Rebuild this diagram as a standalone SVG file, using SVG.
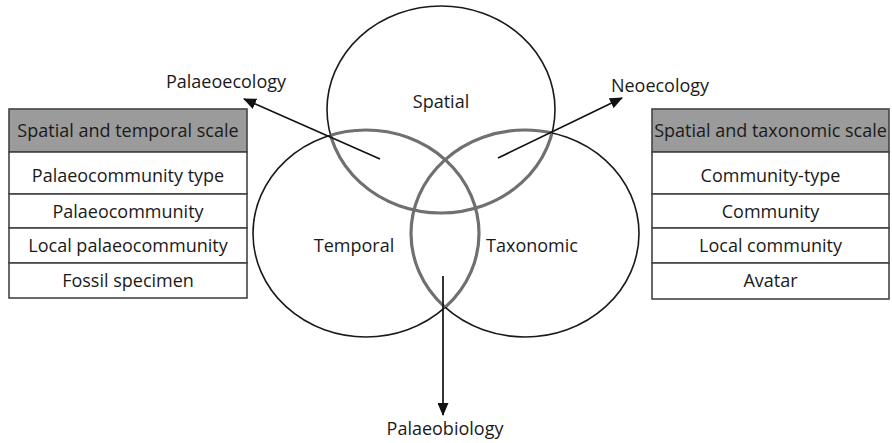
<svg xmlns="http://www.w3.org/2000/svg" width="892" height="443" viewBox="0 0 892 443">
<style>
text{font-family:"Open Sans","Noto Sans","DejaVu Sans",sans-serif;font-size:18px;fill:#1a1a1a;text-anchor:middle}
.thin{fill:none;stroke:#1a1a1a;stroke-width:1.6}
.gray{fill:none;stroke:#707070;stroke-width:3.2}
.cell{fill:#fff;stroke:#444;stroke-width:1.6}
.head{fill:#9b9b9b;stroke:#444;stroke-width:1.6}
.arrow{stroke:#111;stroke-width:1.7;fill:none;marker-end:url(#ah)}
</style>
<defs>
<marker id="ah" viewBox="0 0 13 11" refX="12" refY="5.5" markerWidth="13" markerHeight="11" markerUnits="userSpaceOnUse" orient="auto">
<path d="M0,0 L13,5.5 L0,11 z" fill="#111"/>
</marker>
<clipPath id="clipTop"><ellipse cx="366" cy="233.5" rx="113" ry="103.5"/><ellipse cx="525" cy="233.5" rx="114" ry="103.5"/></clipPath>
<clipPath id="clipLeft"><ellipse cx="441" cy="109.5" rx="114" ry="103.5"/><ellipse cx="525" cy="233.5" rx="114" ry="103.5"/></clipPath>
<clipPath id="clipRight"><ellipse cx="441" cy="109.5" rx="114" ry="103.5"/><ellipse cx="366" cy="233.5" rx="113" ry="103.5"/></clipPath>
</defs>
<g id="venn">
<g id="spatial">
<ellipse class="thin" cx="441" cy="109.5" rx="114" ry="103.5"/>
<ellipse class="gray" cx="441" cy="109.5" rx="114" ry="103.5" clip-path="url(#clipTop)"/>
<text x="441" y="108">Spatial</text>
</g>
<g id="temporal">
<ellipse class="thin" cx="366" cy="233.5" rx="113" ry="103.5"/>
<ellipse class="gray" cx="366" cy="233.5" rx="113" ry="103.5" clip-path="url(#clipLeft)"/>
<text x="354" y="252">Temporal</text>
</g>
<g id="taxonomic">
<ellipse class="thin" cx="525" cy="233.5" rx="114" ry="103.5"/>
<ellipse class="gray" cx="525" cy="233.5" rx="114" ry="103.5" clip-path="url(#clipRight)"/>
<text x="532" y="252">Taxonomic</text>
</g>
</g>
<g id="connectors">
<line class="arrow" x1="380" y1="159" x2="244" y2="99"/>
<line class="arrow" x1="498" y1="158" x2="622" y2="98"/>
<line class="arrow" x1="443" y1="276" x2="443" y2="415"/>
</g>
<g id="labels">
<text id="palaeoecology" x="226" y="88">Palaeoecology</text>
<text id="neoecology" x="660" y="92">Neoecology</text>
<text id="palaeobiology" x="445" y="435">Palaeobiology</text>
</g>
<g id="table-left">
<rect class="head" x="9" y="109" width="238" height="43"/>
<rect class="cell" x="9" y="152" width="238" height="42"/>
<rect class="cell" x="9" y="194" width="238" height="34"/>
<rect class="cell" x="9" y="228" width="238" height="35"/>
<rect class="cell" x="9" y="263" width="238" height="35"/>
<text x="128" y="137">Spatial and temporal scale</text>
<text x="128" y="182">Palaeocommunity type</text>
<text x="128" y="218">Palaeocommunity</text>
<text x="128" y="252">Local palaeocommunity</text>
<text x="128" y="287">Fossil specimen</text>
</g>
<g id="table-right">
<rect class="head" x="652" y="109" width="237" height="43"/>
<rect class="cell" x="652" y="152" width="237" height="42"/>
<rect class="cell" x="652" y="194" width="237" height="34"/>
<rect class="cell" x="652" y="228" width="237" height="35"/>
<rect class="cell" x="652" y="263" width="237" height="36"/>
<text x="770.5" y="137">Spatial and taxonomic scale</text>
<text x="770.5" y="182">Community-type</text>
<text x="770.5" y="218">Community</text>
<text x="770.5" y="252">Local community</text>
<text x="770.5" y="287">Avatar</text>
</g>
</svg>
